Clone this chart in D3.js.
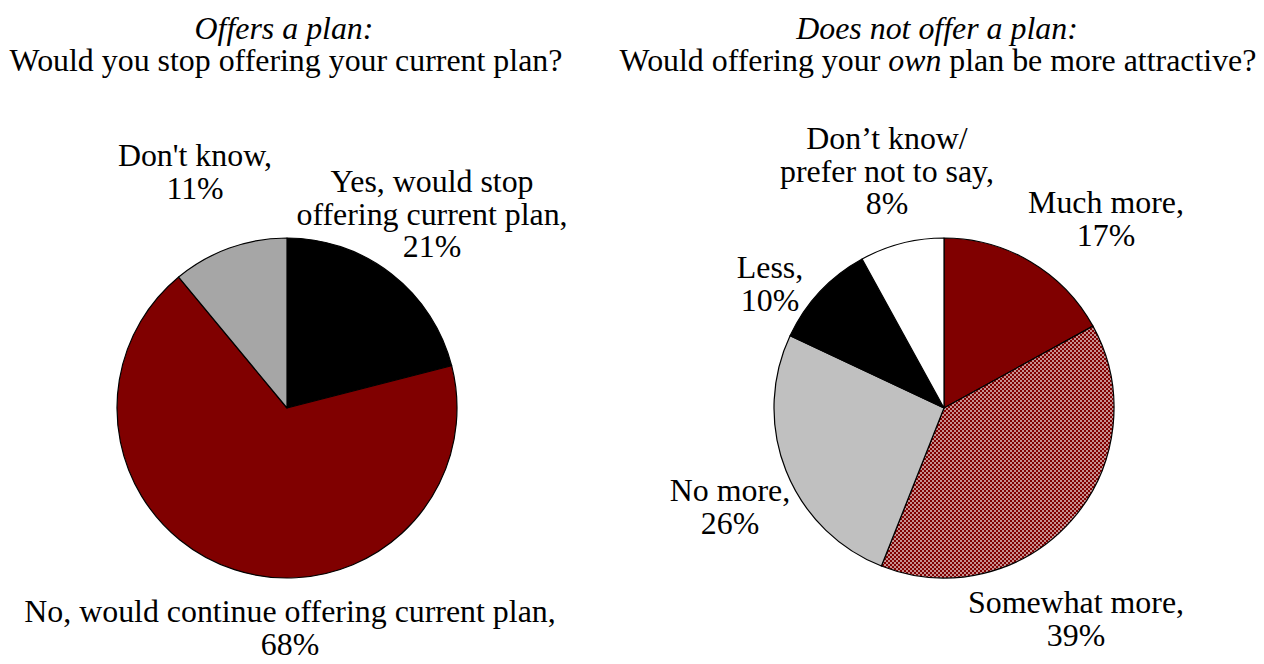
<!DOCTYPE html>
<html>
<head>
<meta charset="utf-8">
<script src="https://cdn.jsdelivr.net/npm/d3@7"></script>
<style>
  html, body { margin: 0; padding: 0; background: #fff; }
  svg { display: block; }
</style>
</head>
<body>
<svg id="chart" width="1264" height="664"></svg>
<script>
// ---- Data ----
const leftCategories = ["Yes, would stop offering current plan", "No, would continue offering current plan", "Don't know"];
const leftValues = [21, 68, 11];
const leftLabels = [
  ["Yes, would stop", "offering current plan,", "21%"],
  ["No, would continue offering current plan,", "68%"],
  ["Don't know,", "11%"]
];

const rightCategories = ["Much more", "Somewhat more", "No more", "Less", "Don't know/prefer not to say"];
const rightValues = [17, 39, 26, 10, 8];
const rightLabels = [
  ["Much more,", "17%"],
  ["Somewhat more,", "39%"],
  ["No more,", "26%"],
  ["Less,", "10%"],
  ["Don\u2019t know/", "prefer not to say,", "8%"]
];

// ---- Styles ----
const leftFills = ["#000000", "#800000", "#a6a6a6"];
const rightFills = ["#800000", "url(#checker)", "#c0c0c0", "#000000", "#ffffff"];

// label anchor positions (center x, first baseline y)
const leftLabelPos = [[432, 192], [290, 622], [195, 166]];
const rightLabelPos = [[1106, 213], [1076, 613], [730, 501], [770, 278], [887, 149]];

function pickFont(cands) {
  const c = document.createElement("canvas").getContext("2d");
  const s = "Would you stop offering your current plan? WMil";
  for (const f of cands) {
    let ok = false;
    for (const base of ["monospace", "sans-serif"]) {
      c.font = `40px ${base}`; const w0 = c.measureText(s).width;
      c.font = `40px "${f}", ${base}`; const w1 = c.measureText(s).width;
      if (Math.abs(w1 - w0) > 0.5) ok = true;
    }
    if (ok) return `"${f}"`;
  }
  return "serif";
}
const FONT = pickFont(["Liberation Serif", "Times New Roman", "Tinos", "DejaVu Serif", "Noto Serif"]) + ", serif";

const svg = d3.select("#chart");
svg.style("font-family", FONT);

const probe = svg.append("text").style("font-size", "24px").text("Would you stop offering your current plan?");
const probeW = probe.node().getComputedTextLength();
probe.remove();
const FS = Math.max(20, Math.min(32, 24 * 553 / probeW));

const defs = svg.append("defs");
const pat = defs.append("pattern").attr("id", "checker")
  .attr("patternUnits", "userSpaceOnUse").attr("width", 4).attr("height", 4);
pat.append("rect").attr("width", 4).attr("height", 4).attr("fill", "#800000");
pat.append("rect").attr("x", 0.25).attr("y", 0.25).attr("width", 1.5).attr("height", 1.5).attr("fill", "#ffffff");
pat.append("rect").attr("x", 2.25).attr("y", 2.25).attr("width", 1.5).attr("height", 1.5).attr("fill", "#ffffff");

const radius = 170;
const pie = d3.pie().sort(null).value(d => d);
const arc = d3.arc().innerRadius(0).outerRadius(radius);
const lineH = 32.5;

function addText(x, y) {
  return svg.append("text").attr("x", x).attr("y", y).attr("text-anchor", "middle")
    .style("font-size", FS + "px").attr("fill", "#000");
}

function drawPie(cx, cy, values, fills, labels, pos) {
  const g = svg.append("g").attr("transform", `translate(${cx},${cy})`);
  g.selectAll("path").data(pie(values)).enter().append("path")
    .attr("d", arc)
    .attr("fill", (d, i) => fills[i])
    .attr("stroke", "#000").attr("stroke-width", 1.2).attr("stroke-linejoin", "round");
  labels.forEach((lines, i) => {
    const t = addText(pos[i][0], pos[i][1]);
    lines.forEach((ln, j) => {
      t.append("tspan").attr("x", pos[i][0]).attr("y", pos[i][1] + j * lineH).text(ln);
    });
  });
}

drawPie(287, 408, leftValues, leftFills, leftLabels, leftLabelPos);
drawPie(944, 408, rightValues, rightFills, rightLabels, rightLabelPos);

// Titles (two lines each, one text element)
const t1 = addText(286, 39);
t1.append("tspan").attr("x", 284).attr("y", 39).style("font-style", "italic").text("Offers a plan:");
t1.append("tspan").attr("x", 286).attr("y", 71).text("Would you stop offering your current plan?");

const t2 = addText(938, 39);
t2.append("tspan").attr("x", 937).attr("y", 39).style("font-style", "italic").text("Does not offer a plan:");
t2.append("tspan").attr("x", 938).attr("y", 71).text("Would offering your ");
t2.append("tspan").style("font-style", "italic").text("own");
t2.append("tspan").text(" plan be more attractive?");
</script>
</body>
</html>
